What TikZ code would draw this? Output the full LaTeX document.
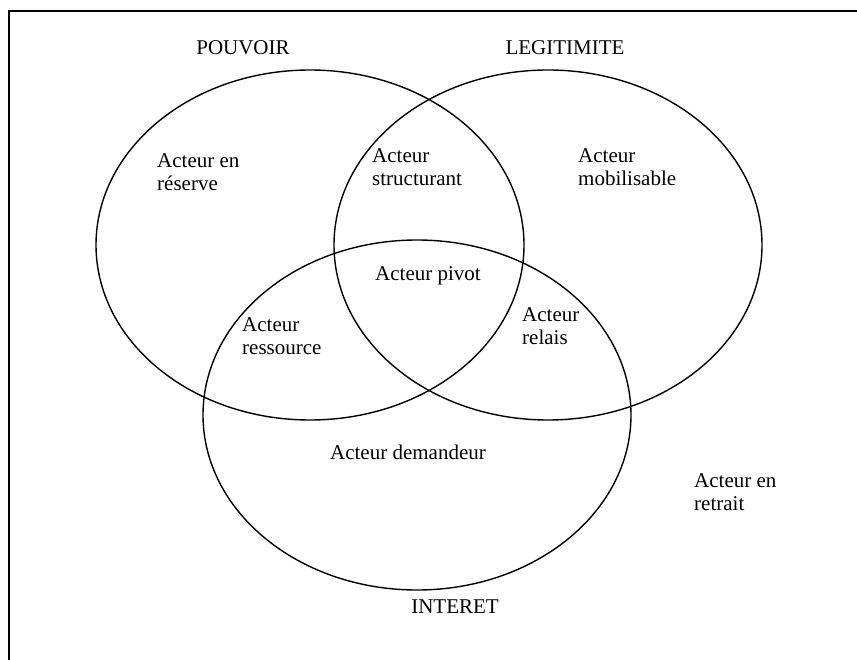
\documentclass[tikz,border=0pt]{standalone}
\usepackage{fontspec}
\setmainfont{Liberation Serif}
\begin{document}
\begin{tikzpicture}[x=1pt,y=-1pt,
  lbl/.style={inner sep=0pt,anchor=north west,align=left,font=\fontsize{21}{23}\selectfont},
  clbl/.style={inner sep=0pt,anchor=north,align=center,font=\fontsize{21}{23}\selectfont},
  circ/.style={draw=black,line width=1.4pt},
  frameline/.style={draw=black,line width=1.3pt}]
\useasboundingbox (0,0) rectangle (857,660);
\coordinate (fbl) at (9,660);
\coordinate (ftl) at (9,11);
\coordinate (ftr) at (857,11);
\draw[frameline] (fbl) -- (ftl) -- (ftr);
\draw[circ] (310,245) ellipse [x radius=214, y radius=175];
\draw[circ] (548,245) ellipse [x radius=214, y radius=175];
\draw[circ] (417,415) ellipse [x radius=214, y radius=175];
\node[clbl] (pouvoir) at (243,40) {POUVOIR};
\node[clbl] (legit) at (565,40) {LEGITIMITE};
\node[clbl] (interet) at (455,600) {INTERET};
\node[lbl] (reserve) at (157,153) {Acteur en\\réserve};
\node[lbl] (struct) at (372,148) {Acteur\\structurant};
\node[lbl] (mobil) at (578,148) {Acteur\\mobilisable};
\node[clbl] (pivot) at (428,266) {Acteur pivot};
\node[lbl] (ress) at (242,317) {Acteur\\ressource};
\node[lbl] (relais) at (522,307) {Acteur\\relais};
\node[clbl] (dem) at (408,445) {Acteur demandeur};
\node[lbl] (retrait) at (694,473) {Acteur en\\retrait};
\end{tikzpicture}
\end{document}
